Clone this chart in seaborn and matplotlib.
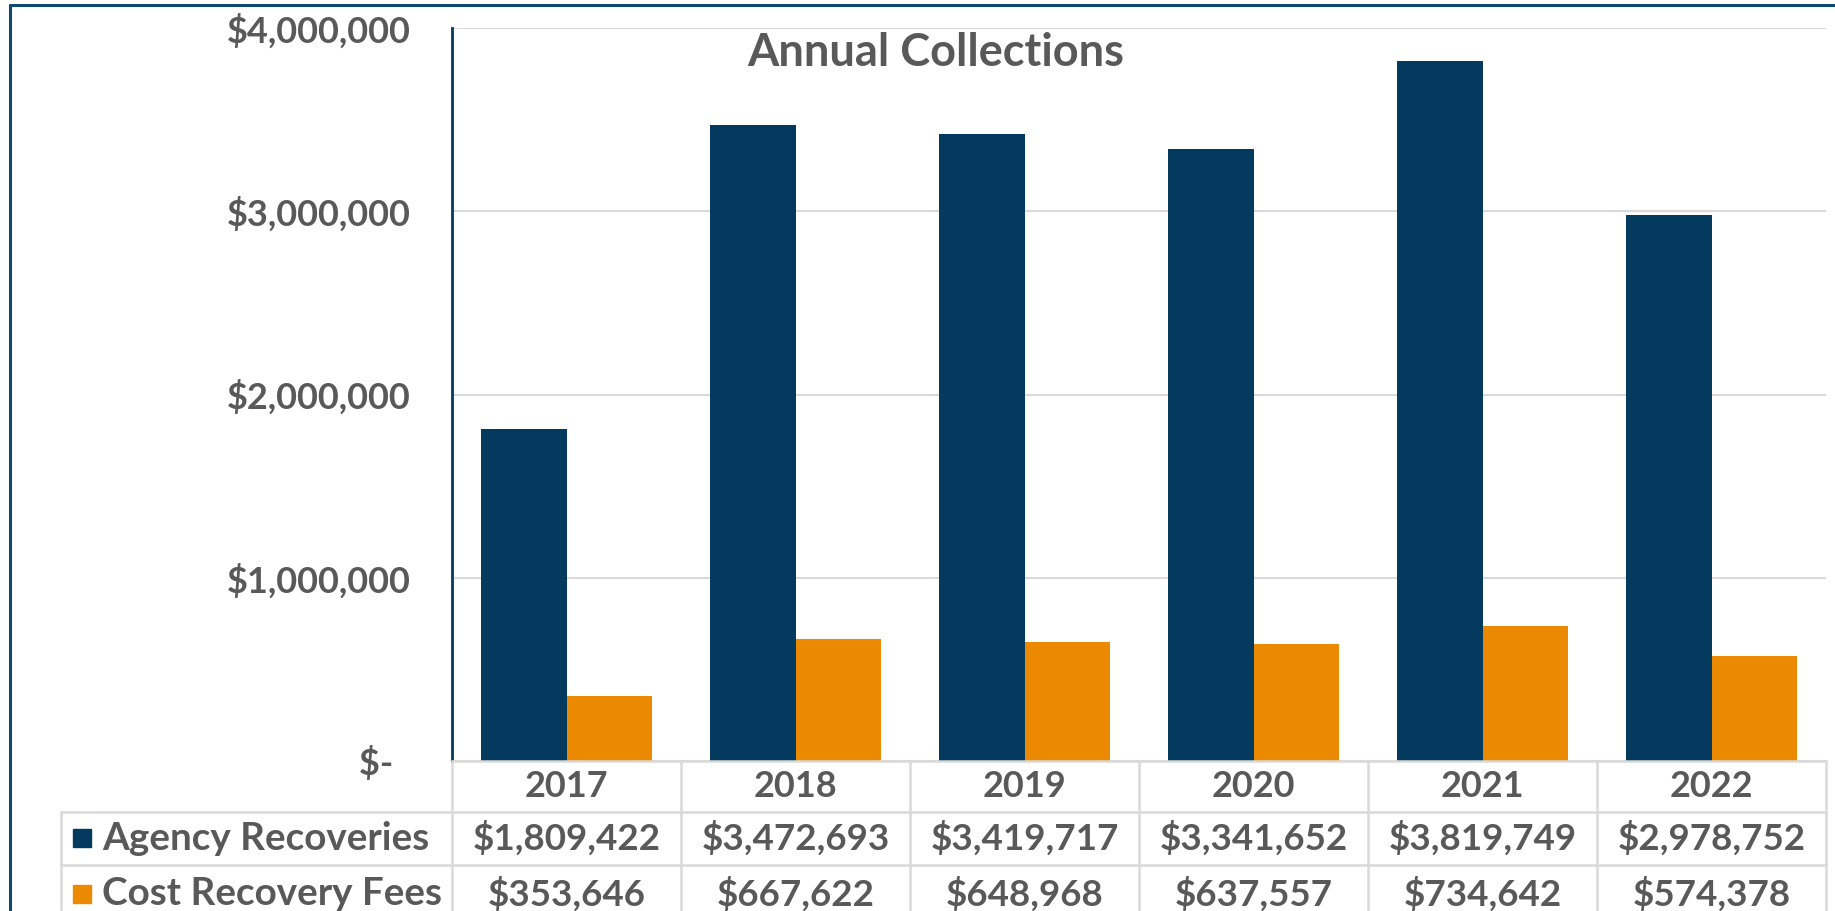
import matplotlib
matplotlib.use("Agg")
import matplotlib.pyplot as plt
import seaborn as sns
import pandas as pd
from matplotlib.transforms import blended_transform_factory
from matplotlib.patches import Rectangle
from matplotlib.lines import Line2D

# ---- data -------------------------------------------------------------
years = ["2017", "2018", "2019", "2020", "2021", "2022"]
agency_recoveries = [1809422, 3472693, 3419717, 3341652, 3819749, 2978752]
cost_recovery_fees = [353646, 667622, 648968, 637557, 734642, 574378]
series_names = ["Agency Recoveries", "Cost Recovery Fees"]
y_ticks = [0, 1000000, 2000000, 3000000, 4000000]
y_tick_labels = ["$-  ", "$1,000,000", "$2,000,000", "$3,000,000", "$4,000,000"]
chart_title = "Annual Collections"

# ---- style ------------------------------------------------------------
NAVY = "#043A5D"
ORANGE = "#EB8A00"
TEXT = "#595959"
GRID = "#D9D9D9"
FRAME = "#0E4A6F"
FS = 26

sns.set_theme(style="white")
plt.rcParams["font.family"] = ["Lato", "DejaVu Sans"]

df = pd.DataFrame({
    "Year": years * 2,
    "Series": [series_names[0]] * len(years) + [series_names[1]] * len(years),
    "Amount": agency_recoveries + cost_recovery_fees,
})

W, H = 1835, 911
fig = plt.figure(figsize=(W / 100, H / 100), dpi=100)
ax_left, ax_right, ax_top, ax_bottom = 452, 1826, 28, 761
ax = fig.add_axes([ax_left / W, 1 - ax_bottom / H,
                   (ax_right - ax_left) / W, (ax_bottom - ax_top) / H])

sns.barplot(data=df, x="Year", y="Amount", hue="Series", order=years,
            hue_order=series_names, palette=[NAVY, ORANGE], width=0.75,
            gap=0, linewidth=0, saturation=1, legend=False, errorbar=None,
            ax=ax, zorder=3)

ax.set_xlim(-0.5, len(years) - 0.5)
ax.set_ylim(0, 4000000)
ax.set_yticks(y_ticks)
ax.set_yticklabels(y_tick_labels, fontsize=FS, fontweight="bold", color=TEXT)
ax.tick_params(axis="y", length=0, pad=30)
ax.set_xticks([])
ax.set_xlabel("")
ax.set_ylabel("")
ax.yaxis.grid(True, color=GRID, lw=1.5)
ax.set_axisbelow(True)
for side in ["top", "right", "bottom"]:
    ax.spines[side].set_visible(False)
ax.spines["left"].set_color(NAVY)
ax.spines["left"].set_linewidth(2)
ax.spines["left"].set_zorder(4)

# ---- data table under the bars -----------------------------------------
ax_w = ax_right - ax_left
ax_h = ax_bottom - ax_top
row_edges = [0.0, -0.069, -0.142, -0.22]
label_left = (61 - ax_left) / ax_w
mixed = blended_transform_factory(ax.transData, ax.transAxes)
line_kw = dict(color=GRID, lw=1.8, clip_on=False, zorder=5)

# horizontal rules
ax.add_line(Line2D([0, 1], [0, 0], transform=ax.transAxes, **line_kw))
for y in row_edges[1:3]:
    ax.add_line(Line2D([label_left, 1], [y, y], transform=ax.transAxes, **line_kw))
# vertical rules
for k in range(len(years) + 1):
    xk = k - 0.5
    ax.add_line(Line2D([xk, xk], [row_edges[0], row_edges[-1]], transform=mixed, **line_kw))
ax.add_line(Line2D([label_left, label_left], [row_edges[1], row_edges[-1]],
                   transform=ax.transAxes, **line_kw))

centers = [(row_edges[i] + row_edges[i + 1]) / 2 for i in range(3)]
txt_kw = dict(fontweight="bold", color=TEXT, va="center", clip_on=False, zorder=6)
for i, yr in enumerate(years):
    ax.text(i, centers[0], yr, transform=mixed, ha="center", fontsize=FS, **txt_kw)
    ax.text(i, centers[1], f"${agency_recoveries[i]:,}", transform=mixed,
            ha="center", fontsize=FS + 0.5, **txt_kw)
    ax.text(i, centers[2], f"${cost_recovery_fees[i]:,}", transform=mixed,
            ha="center", fontsize=FS + 0.5, **txt_kw)

# series labels with colour keys
sq = 18
for name, color, yc in zip(series_names, [NAVY, ORANGE], centers[1:]):
    ax.add_patch(Rectangle(((73 - ax_left) / ax_w, yc - sq / 2 / ax_h), sq / ax_w, sq / ax_h,
                           transform=ax.transAxes, color=color, clip_on=False, zorder=6))
    ax.text((102 - ax_left) / ax_w, yc, name, transform=ax.transAxes, ha="left",
            fontsize=27.8, **txt_kw)

# ---- title and outer frame ---------------------------------------------
fig.text(936 / W, 1 - 53 / H, chart_title, ha="center", va="center",
         fontsize=32.5, fontweight="bold", color=TEXT)
fig.add_artist(Line2D([10 / W, 10 / W], [0, 1 - 5 / H], transform=fig.transFigure,
                      color=FRAME, lw=2.2))
fig.add_artist(Line2D([10 / W, 1], [1 - 5 / H, 1 - 5 / H], transform=fig.transFigure,
                      color=FRAME, lw=2.2))

fig.savefig("out.png", dpi=100, facecolor="white")
